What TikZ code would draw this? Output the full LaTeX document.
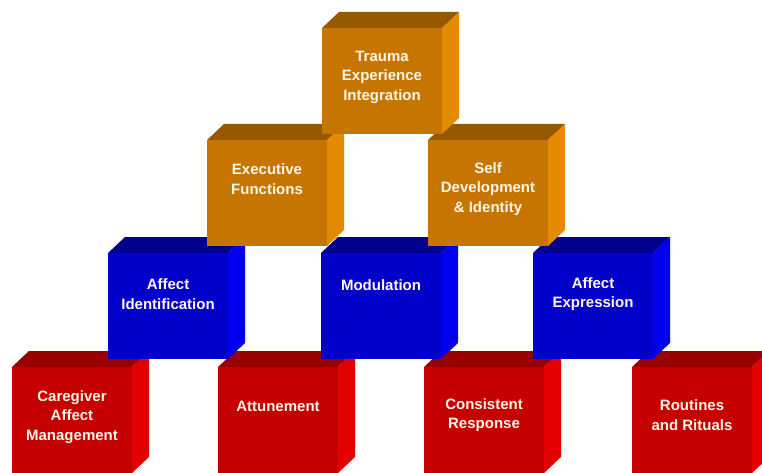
\documentclass[tikz,border=0pt]{standalone}
\usepackage{fontspec}
\setmainfont{Liberation Sans}
\definecolor{frontamber}{RGB}{198,118,0}
\definecolor{topamber}{RGB}{150,88,0}
\definecolor{sideamber}{RGB}{228,138,0}
\definecolor{frontcobalt}{RGB}{0,0,200}
\definecolor{topcobalt}{RGB}{0,0,140}
\definecolor{sidecobalt}{RGB}{0,0,238}
\definecolor{frontbrick}{RGB}{196,0,0}
\definecolor{topbrick}{RGB}{152,0,0}
\definecolor{sidebrick}{RGB}{226,0,0}
\definecolor{labelcream}{RGB}{255,246,232}
\tikzset{
  blocktext/.style={text=labelcream, align=center, inner sep=0pt,
    font=\fontsize{15}{19.5}\selectfont\bfseries},
}
\begin{document}
\begin{tikzpicture}[x=1pt, y=-1pt]
\useasboundingbox (0,0) rectangle (762,473);
% blocks from the bottom row upward
\foreach \bx/\by/\bc/\bn/\ty/\bt in {
  12/367/brick/care/417/{Caregiver\\Affect\\Management},
  218/367/brick/attune/406/{Attunement},
  424/367/brick/consist/415/{Consistent\\Response},
  632/367/brick/routine/415/{Routines\\and Rituals},
  108/253/cobalt/affid/294/{Affect\\Identification},
  321/253/cobalt/modul/285/{Modulation},
  533/253/cobalt/affex/294/{Affect\\Expression},
  207/140/amber/exec/179/{Executive\\Functions},
  428/140/amber/self/189/{Self\\Development\\\& Identity},
  322/28/amber/trauma/77/{Trauma\\Experience\\Integration}}
{
  \fill[fill=top\bc] (\bx,\by) -- ++(17,-16) -- ++(120,0) -- ++(-17,16) -- cycle;
  \fill[fill=side\bc] (\bx+120,\by) -- ++(17,-16) -- ++(0,106) -- ++(-17,16) -- cycle;
  \fill[fill=front\bc] (\bx,\by) rectangle ++(120,106);
  \node[blocktext] (\bn) at (\bx+60,\ty) {\bt};
}
\end{tikzpicture}
\end{document}
